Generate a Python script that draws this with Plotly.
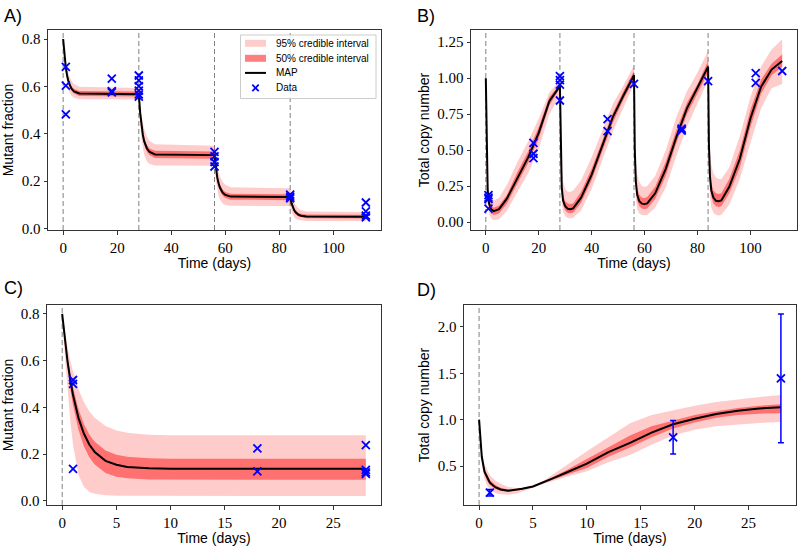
import plotly.graph_objects as go
from plotly.subplots import make_subplots

# ---- panel A: mutant fraction, four doses ----
tA = [0, 0.5, 1, 1.5, 2, 3, 4, 6,
      28, 28.5, 29, 29.5, 30, 31, 32, 34,
      56, 56.5, 57, 57.5, 58, 59, 60, 62,
      84, 84.5, 85, 85.5, 86, 87, 88, 90, 112]
mapA = [0.8, 0.728, 0.678, 0.644, 0.620, 0.592, 0.579, 0.570,
        0.567, 0.487, 0.433, 0.395, 0.368, 0.338, 0.323, 0.313,
        0.31, 0.255, 0.217, 0.191, 0.173, 0.152, 0.142, 0.135,
        0.133, 0.107, 0.090, 0.077, 0.069, 0.059, 0.054, 0.051, 0.05]
lo95A = [0.8, 0.707, 0.648, 0.610, 0.586, 0.562, 0.552, 0.546,
         0.545, 0.443, 0.378, 0.337, 0.310, 0.283, 0.272, 0.266,
         0.265, 0.203, 0.164, 0.139, 0.123, 0.106, 0.099, 0.096,
         0.095, 0.072, 0.057, 0.048, 0.042, 0.036, 0.034, 0.032, 0.032]
hi95A = [0.8, 0.745, 0.704, 0.674, 0.652, 0.625, 0.610, 0.598,
         0.593, 0.528, 0.480, 0.445, 0.420, 0.387, 0.370, 0.356,
         0.35, 0.302, 0.266, 0.241, 0.222, 0.198, 0.185, 0.174,
         0.17, 0.143, 0.124, 0.109, 0.099, 0.085, 0.078, 0.072, 0.07]
lo50A = [0.8, 0.725, 0.673, 0.637, 0.612, 0.583, 0.570, 0.560,
         0.557, 0.476, 0.420, 0.381, 0.354, 0.323, 0.309, 0.298,
         0.295, 0.241, 0.203, 0.178, 0.160, 0.139, 0.129, 0.122,
         0.12, 0.096, 0.080, 0.068, 0.060, 0.051, 0.047, 0.044, 0.043]
hi50A = [0.8, 0.731, 0.684, 0.651, 0.628, 0.602, 0.590, 0.581,
         0.578, 0.500, 0.446, 0.408, 0.382, 0.352, 0.338, 0.328,
         0.325, 0.269, 0.231, 0.204, 0.186, 0.164, 0.154, 0.147,
         0.145, 0.118, 0.099, 0.087, 0.078, 0.067, 0.063, 0.059, 0.058]
dataA_t = [1, 1, 1, 18, 18, 18, 28, 28, 28, 28, 28, 28,
           56, 56, 56, 56, 84, 84, 84, 112, 112, 112, 112]
dataA_y = [0.682, 0.603, 0.482, 0.633, 0.58, 0.575, 0.646, 0.625, 0.601, 0.582, 0.566, 0.557,
           0.324, 0.305, 0.281, 0.262, 0.143, 0.135, 0.128, 0.11, 0.073, 0.055, 0.047]

# ---- panel B: total copy number, four doses ----
tB = [0, 0.3, 0.7, 1.2, 2, 3, 5, 8, 12, 16, 20, 24,
      28, 28.3, 28.7, 29.2, 30, 31, 32, 33, 36, 40, 44, 48, 52,
      56, 56.3, 56.7, 57.2, 58, 59, 60, 61, 64, 68, 72, 76, 80,
      84, 84.3, 84.7, 85.2, 86, 87, 88, 89, 92, 96, 100, 104, 108, 112]
mapB = [1.0, 0.45, 0.22, 0.13, 0.088, 0.076, 0.09, 0.165, 0.31, 0.45, 0.62, 0.84,
        0.945, 0.45, 0.24, 0.15, 0.11, 0.092, 0.09, 0.095, 0.17, 0.33, 0.53, 0.73, 0.88,
        1.02, 0.5, 0.28, 0.19, 0.145, 0.128, 0.125, 0.13, 0.2, 0.37, 0.59, 0.79, 0.93,
        1.08, 0.55, 0.32, 0.22, 0.17, 0.148, 0.145, 0.15, 0.245, 0.44, 0.72, 0.94, 1.06, 1.12]
hi95B = [1.0, 0.55, 0.32, 0.22, 0.17, 0.15, 0.17, 0.26, 0.42, 0.56, 0.72, 0.90,
         0.985, 0.6, 0.38, 0.28, 0.23, 0.21, 0.21, 0.22, 0.29, 0.45, 0.64, 0.82, 0.95,
         1.09, 0.62, 0.42, 0.33, 0.28, 0.25, 0.245, 0.25, 0.32, 0.50, 0.73, 0.91, 1.04,
         1.19, 0.7, 0.5, 0.4, 0.34, 0.31, 0.30, 0.30, 0.38, 0.6, 0.87, 1.08, 1.20, 1.27]
lo95B = [1.0, 0.35, 0.13, 0.06, 0.025, 0.012, 0.02, 0.08, 0.21, 0.34, 0.51, 0.75,
         0.88, 0.35, 0.14, 0.07, 0.04, 0.028, 0.025, 0.03, 0.08, 0.23, 0.43, 0.63, 0.80,
         0.96, 0.38, 0.16, 0.09, 0.06, 0.05, 0.048, 0.05, 0.1, 0.24, 0.46, 0.66, 0.82,
         0.99, 0.4, 0.18, 0.1, 0.065, 0.05, 0.045, 0.05, 0.12, 0.30, 0.55, 0.79, 0.93, 0.96]
hi50B = [1.0, 0.48, 0.25, 0.16, 0.115, 0.10, 0.115, 0.19, 0.35, 0.49, 0.66, 0.87,
         0.96, 0.5, 0.28, 0.19, 0.145, 0.13, 0.125, 0.13, 0.21, 0.37, 0.57, 0.76, 0.91,
         1.05, 0.54, 0.32, 0.23, 0.19, 0.17, 0.168, 0.175, 0.245, 0.42, 0.64, 0.83, 0.96,
         1.12, 0.6, 0.37, 0.27, 0.22, 0.2, 0.195, 0.2, 0.3, 0.5, 0.78, 0.99, 1.1, 1.165]
lo50B = [1.0, 0.42, 0.19, 0.10, 0.06, 0.05, 0.06, 0.13, 0.27, 0.41, 0.58, 0.81,
         0.93, 0.42, 0.2, 0.12, 0.08, 0.065, 0.062, 0.065, 0.135, 0.29, 0.49, 0.69, 0.85,
         0.99, 0.46, 0.24, 0.15, 0.11, 0.095, 0.09, 0.095, 0.16, 0.32, 0.55, 0.75, 0.89,
         1.04, 0.5, 0.28, 0.18, 0.13, 0.11, 0.105, 0.11, 0.2, 0.38, 0.66, 0.89, 1.02, 1.08]
dataB_t = [1, 1, 1, 1, 18, 18, 18, 28, 28, 28, 28, 46, 46, 56,
           74, 74, 74, 84, 102, 102, 112]
dataB_y = [0.187, 0.17, 0.16, 0.094, 0.55, 0.475, 0.445, 1.015, 0.987, 0.955, 0.845, 0.715, 0.632, 0.96,
           0.65, 0.642, 0.635, 0.98, 1.035, 0.968, 1.05]

# ---- panel C: mutant fraction, single dose ----
tC = [0, 0.25, 0.5, 0.75, 1, 1.5, 2, 2.5, 3, 4, 5, 6, 8, 10, 28]
mapC = [0.8, 0.688, 0.594, 0.518, 0.453, 0.355, 0.288, 0.241, 0.209, 0.171, 0.154, 0.145, 0.139, 0.137, 0.137]
hi95C = [0.8, 0.723, 0.656, 0.600, 0.553, 0.478, 0.423, 0.383, 0.355, 0.320, 0.301, 0.291, 0.283, 0.281, 0.28]
lo95C = [0.8, 0.62, 0.47, 0.34, 0.24, 0.11, 0.06, 0.038, 0.03, 0.024, 0.022, 0.021, 0.02, 0.02, 0.02]
hi50C = [0.8, 0.699, 0.614, 0.543, 0.484, 0.393, 0.329, 0.284, 0.253, 0.215, 0.197, 0.189, 0.182, 0.18, 0.18]
lo50C = [0.8, 0.671, 0.566, 0.480, 0.409, 0.304, 0.233, 0.186, 0.155, 0.119, 0.103, 0.096, 0.091, 0.09, 0.09]
dataC_t = [1, 1, 1, 18, 18, 28, 28, 28, 28]
dataC_y = [0.517, 0.50, 0.137, 0.224, 0.126, 0.238, 0.132, 0.122, 0.115]

# ---- panel D: total copy number, single dose ----
tD = [0, 0.25, 0.5, 0.75, 1, 1.5, 2, 2.7, 3.5, 4, 5, 6, 7, 8, 10, 12, 14, 16, 18, 20, 22, 24, 26, 28]
mapD = [1.0, 0.60, 0.44, 0.37, 0.32, 0.272, 0.248, 0.234, 0.242, 0.255, 0.28, 0.325, 0.375, 0.425,
        0.525, 0.65, 0.75, 0.86, 0.95, 1.01, 1.06, 1.095, 1.12, 1.135]
hi95D = [1.0, 0.66, 0.52, 0.45, 0.40, 0.345, 0.31, 0.275, 0.262, 0.268, 0.29, 0.345, 0.42, 0.50,
         0.66, 0.81, 0.96, 1.05, 1.10, 1.15, 1.19, 1.22, 1.245, 1.265]
lo95D = [1.0, 0.52, 0.36, 0.29, 0.25, 0.21, 0.195, 0.19, 0.205, 0.225, 0.265, 0.31, 0.345, 0.38,
         0.445, 0.54, 0.62, 0.73, 0.83, 0.89, 0.93, 0.95, 0.965, 0.975]
hi50D = [1.0, 0.62, 0.47, 0.40, 0.35, 0.295, 0.265, 0.248, 0.25, 0.26, 0.284, 0.332, 0.39, 0.45,
         0.575, 0.70, 0.83, 0.93, 0.99, 1.05, 1.09, 1.125, 1.15, 1.165]
lo50D = [1.0, 0.58, 0.41, 0.34, 0.295, 0.252, 0.232, 0.222, 0.233, 0.248, 0.275, 0.318, 0.36, 0.40,
         0.48, 0.60, 0.70, 0.81, 0.905, 0.97, 1.02, 1.05, 1.065, 1.07]
dataD_t = [1, 18, 28]
dataD_y = [0.213, 0.81, 1.445]
dataD_err = [0.035, 0.18, 0.695]

dosesAB = [0, 28, 56, 84]
dosesCD = [0]

legend_labels = ['95% credible interval', '50% credible interval', 'MAP', 'Data']

C95 = 'rgba(255,0,0,0.2)'
C50 = 'rgba(255,0,0,0.45)'
BLUE = '#0000ff'

fig = make_subplots(rows=2, cols=2)


def add_panel(row, col, t, lo95, hi95, lo50, hi50, mp, dt, dy, err=None):
    fig.add_trace(go.Scatter(x=t + t[::-1], y=hi95 + lo95[::-1], fill='toself', fillcolor=C95,
                             mode='lines', line=dict(width=0), showlegend=False, hoverinfo='skip'),
                  row=row, col=col)
    fig.add_trace(go.Scatter(x=t + t[::-1], y=hi50 + lo50[::-1], fill='toself', fillcolor=C50,
                             mode='lines', line=dict(width=0), showlegend=False, hoverinfo='skip'),
                  row=row, col=col)
    fig.add_trace(go.Scatter(x=t, y=mp, mode='lines', line=dict(color='black', width=2),
                             showlegend=False), row=row, col=col)
    ey = None
    if err is not None:
        ey = dict(type='data', array=err, color=BLUE, thickness=1.5, width=3)
    fig.add_trace(go.Scatter(x=dt, y=dy, mode='markers', showlegend=False, error_y=ey,
                             marker=dict(symbol='x-thin', size=8, color=BLUE,
                                         line=dict(width=1.8, color=BLUE))), row=row, col=col)


add_panel(1, 1, tA, lo95A, hi95A, lo50A, hi50A, mapA, dataA_t, dataA_y)
add_panel(1, 2, tB, lo95B, hi95B, lo50B, hi50B, mapB, dataB_t, dataB_y)
add_panel(2, 1, tC, lo95C, hi95C, lo50C, hi50C, mapC, dataC_t, dataC_y)
add_panel(2, 2, tD, lo95D, hi95D, lo50D, hi50D, mapD, dataD_t, dataD_y, err=dataD_err)

# dashed lines at dosing times
for xr, yr, doses in [('x', 'y', dosesAB), ('x2', 'y2', dosesAB), ('x3', 'y3', dosesCD), ('x4', 'y4', dosesCD)]:
    for d in doses:
        fig.add_shape(type='line', xref=xr, yref=yr + ' domain', x0=d, x1=d, y0=0, y1=1,
                      line=dict(color='#808080', width=1, dash='5px,3px'), layer='below')

tickfont = dict(family='Liberation Serif', size=15, color='black')
titlefont = dict(family='Liberation Sans', size=14, color='black')


def ax(domain, rng, vals, title, fmt=None, standoff=2):
    d = dict(domain=domain, range=rng, tickvals=vals, tickfont=tickfont, automargin=False,
             showgrid=False, zeroline=False, showline=True, mirror=True, linecolor='#333333',
             linewidth=1, ticks='outside', ticklen=3.5, tickcolor='#333333',
             title=dict(text=title, font=titlefont, standoff=standoff))
    if fmt:
        d['tickformat'] = fmt
    return d


top = [1 - 230 / 546, 1 - 30 / 546]
bot = [1 - 505 / 546, 1 - 305 / 546]
days_long = [0, 20, 40, 60, 80, 100]
days_short = [0, 5, 10, 15, 20, 25]

fig.update_layout(
    xaxis=ax([48 / 800, 381 / 800], [-5.6, 117.6], days_long, 'Time (days)'),
    yaxis=ax(top, [-0.006, 0.838], [0, 0.2, 0.4, 0.6, 0.8], 'Mutant fraction', '.1f', 4),
    xaxis2=ax([471 / 800, 797 / 800], [-5.6, 117.6], days_long, 'Time (days)'),
    yaxis2=ax(top, [-0.055, 1.335], [0, 0.25, 0.5, 0.75, 1.0, 1.25], 'Total copy number', '.2f', 4),
    xaxis3=ax([47 / 800, 381 / 800], [-1.4, 29.4], days_short, 'Time (days)'),
    yaxis3=ax(bot, [-0.018, 0.838], [0, 0.2, 0.4, 0.6, 0.8], 'Mutant fraction', '.1f', 4),
    xaxis4=ax([464 / 800, 796 / 800], [-1.4, 29.4], days_short, 'Time (days)'),
    yaxis4=ax(bot, [0.08, 2.236], [0.5, 1.0, 1.5, 2.0], 'Total copy number', '.1f', 4),
    width=800, height=546,
    margin=dict(l=0, r=0, t=0, b=0),
    paper_bgcolor='white', plot_bgcolor='white',
    showlegend=False,
)

# legend box for panel A (drawn in pixel-based paper coordinates)
def px(x):
    return x / 800


def py(y):
    return 1 - y / 546


fig.add_shape(type='rect', xref='paper', yref='paper', x0=px(240.5), x1=px(376), y0=py(35), y1=py(98.5),
              line=dict(color='#cccccc', width=1), fillcolor='rgba(255,255,255,0.8)')
rows = [43.3, 58.3, 72.9, 87.9]
fig.add_shape(type='rect', xref='paper', yref='paper', x0=px(245), x1=px(266), y0=py(rows[0] - 3.5),
              y1=py(rows[0] + 3.5), line=dict(width=0), fillcolor=C95)
fig.add_shape(type='rect', xref='paper', yref='paper', x0=px(245), x1=px(266), y0=py(rows[1] - 3.5),
              y1=py(rows[1] + 3.5), line=dict(width=0), fillcolor='rgba(255,0,0,0.5)')
fig.add_shape(type='line', xref='paper', yref='paper', x0=px(245), x1=px(266), y0=py(rows[2]),
              y1=py(rows[2]), line=dict(color='black', width=2))
for sx in (-1, 1):
    fig.add_shape(type='line', xref='paper', yref='paper', x0=px(255.5 - 3.2), x1=px(255.5 + 3.2),
                  y0=py(rows[3] - 3.2 * sx), y1=py(rows[3] + 3.2 * sx), line=dict(color=BLUE, width=1.8))
for lab, ry in zip(legend_labels, rows):
    fig.add_annotation(text=lab, x=px(274), y=py(ry), xref='paper', yref='paper', xanchor='left',
                       yanchor='middle', showarrow=False,
                       font=dict(family='Liberation Sans', size=10, color='black'))

for txt, x, y in [('A)', 2, 4), ('B)', 415, 4), ('C)', 2, 276), ('D)', 415, 278)]:
    fig.add_annotation(text=txt, x=px(x), y=py(y), xref='paper', yref='paper',
                       xanchor='left', yanchor='top', showarrow=False,
                       font=dict(family='Liberation Sans', size=18, color='black'))

# the page's default 8px body margin would shift the figure; hide the modebar too
fig.write_html("out.html", config={'displayModeBar': False},
               post_script="document.body.style.margin='0px';")
